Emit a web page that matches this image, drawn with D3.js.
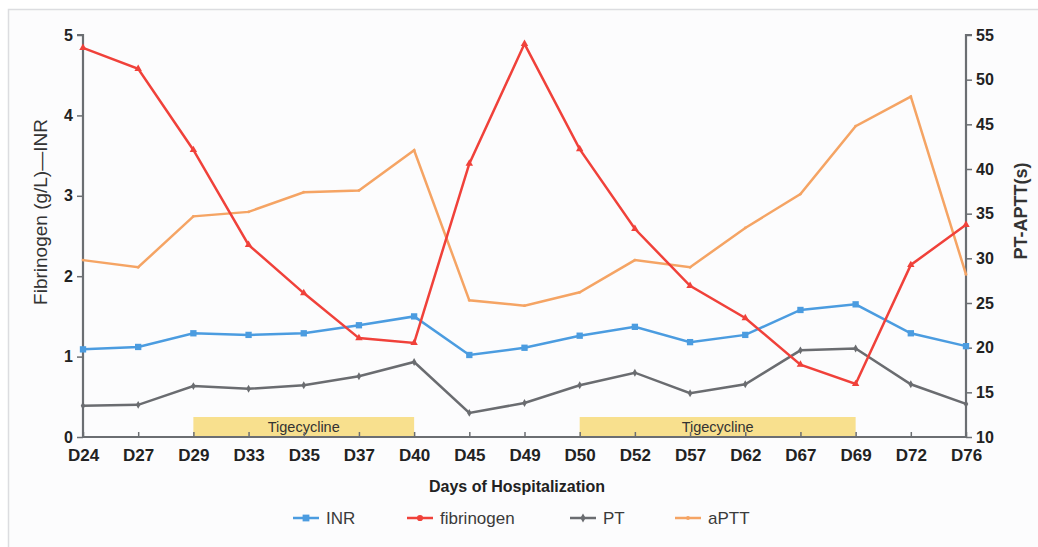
<!DOCTYPE html>
<html>
<head>
<meta charset="utf-8">
<script src="https://cdn.jsdelivr.net/npm/d3@7"></script>
<style>
  body { margin: 0; background: #fff; }
  text { font-family: "Liberation Sans", Arial, sans-serif; }
</style>
</head>
<body>
<svg id="canvas"></svg>
<script>
// data
const days = ["D24","D27","D29","D33","D35","D37","D40","D45","D49","D50","D52","D57","D62","D67","D69","D72","D76"];
const inr        = [1.09,1.12,1.29,1.27,1.29,1.39,1.50,1.02,1.11,1.26,1.37,1.18,1.27,1.58,1.65,1.29,1.13];
const fibrinogen = [4.84,4.58,3.57,2.39,1.79,1.23,1.17,3.40,4.89,3.58,2.59,1.88,1.48,0.90,0.66,2.14,2.64];
const pt         = [13.5,13.6,15.7,15.4,15.8,16.8,18.4,12.7,13.8,15.8,17.2,14.9,15.9,19.7,19.9,15.9,13.7];
const aptt       = [29.8,29.0,34.7,35.2,37.4,37.6,42.1,25.3,24.7,26.2,29.8,29.0,33.4,37.2,44.8,48.1,28.2];
const leftTicks  = [0,1,2,3,4,5];
const rightTicks = [10,15,20,25,30,35,40,45,50,55];
const treatments = [["D29","D40","Tigecycline"],["D50","D69","Tigecycline"]];

const width = 1038, height = 547;
const svg = d3.select('#canvas').attr('width', width).attr('height', height);

// frame
svg.append('rect').attr('x', 8.5).attr('y', 9.5).attr('width', 1100).attr('height', 600)
  .attr('fill', '#fcfcfd').attr('stroke', '#dcdde0').attr('stroke-width', 1.5);

const x = d3.scalePoint().domain(days).range([83, 966]);
const yL = d3.scaleLinear().domain([0, 5]).range([437, 35]);
const yR = d3.scaleLinear().domain([10, 55]).range([437, 35]);

// tigecycline bars
treatments.forEach(t => {
  svg.append('rect')
    .attr('x', x(t[0])).attr('y', 417)
    .attr('width', x(t[1]) - x(t[0])).attr('height', yL(0) - 417)
    .attr('fill', '#f8e08e');
  svg.append('text')
    .attr('x', (x(t[0]) + x(t[1])) / 2).attr('y', 427)
    .attr('text-anchor', 'middle').attr('dominant-baseline', 'central')
    .style('font-size', '14.5px').attr('fill', '#333')
    .text(t[2]);
});

// axes
const axisColor = '#6b6e72';
const gL = svg.append('g').attr('transform', `translate(${x(days[0])},0)`)
  .call(d3.axisLeft(yL).tickValues(leftTicks).tickSize(6).tickPadding(4).tickFormat(d3.format('d')));
const gR = svg.append('g').attr('transform', `translate(${x(days[days.length - 1])},0)`)
  .call(d3.axisRight(yR).tickValues(rightTicks).tickSize(6).tickPadding(4));
const gX = svg.append('g').attr('transform', `translate(0,${yL(0)})`)
  .call(d3.axisBottom(x).tickSize(-5).tickPadding(12));

[gL, gR, gX].forEach(g => {
  g.select('.domain').attr('stroke', axisColor).attr('stroke-width', 2.2);
  g.selectAll('.tick line').attr('stroke', axisColor).attr('stroke-width', 1.5);
  g.selectAll('.tick text').attr('fill', '#222').style('font-weight', 'bold')
    .style('font-size', '16px').style('font-family', '"Liberation Sans", Arial, sans-serif');
});
gX.selectAll('.tick text').style('font-size', '17px');
gX.select('.domain').attr('d', `M${x(days[0])},0H${x(days[days.length - 1])}`);
gL.select('.domain').attr('d', `M-6,${yL(5)}H0V${yL(0)}`);
gR.select('.domain').attr('d', `M6,${yR(55)}H0V${yR(10)}`);

// axis titles
svg.append('text')
  .attr('transform', `translate(40,212) rotate(-90)`)
  .attr('text-anchor', 'middle').attr('dominant-baseline', 'central')
  .style('font-size', '19px').attr('fill', '#333')
  .text('Fibrinogen (g/L)—INR');
svg.append('text')
  .attr('transform', `translate(1021,211) rotate(-90)`)
  .attr('text-anchor', 'middle').attr('dominant-baseline', 'central')
  .style('font-size', '18px').style('font-weight', 'bold').attr('fill', '#333')
  .text('PT-APTT(s)');
svg.append('text')
  .attr('x', 517).attr('y', 486)
  .attr('text-anchor', 'middle').attr('dominant-baseline', 'central')
  .style('font-size', '16px').style('font-weight', 'bold').attr('fill', '#222')
  .text('Days of Hospitalization');

// series
const series = [
  { name: 'INR',        values: inr,        y: yL, color: '#4b9ce0', symbol: d3.symbolSquare,   size: 40 },
  { name: 'fibrinogen', values: fibrinogen, y: yL, color: '#f0413a', symbol: d3.symbolTriangle, size: 24 },
  { name: 'PT',         values: pt,         y: yR, color: '#6a6c70', symbol: d3.symbolDiamond,  size: 18 },
  { name: 'aPTT',       values: aptt,       y: yR, color: '#f5a464', symbol: d3.symbolCircle,   size: 6 }
];
const drawOrder = [series[3], series[2], series[0], series[1]];

drawOrder.forEach(s => {
  const line = d3.line().x((d, i) => x(days[i])).y(d => s.y(d));
  svg.append('path').datum(s.values)
    .attr('d', line).attr('fill', 'none')
    .attr('stroke', s.color).attr('stroke-width', 2.5).attr('stroke-linejoin', 'miter');
  svg.append('g').selectAll('path')
    .data(s.values).enter().append('path')
    .attr('transform', (d, i) => `translate(${x(days[i])},${s.y(d)})`)
    .attr('d', d3.symbol().type(s.symbol).size(s.size))
    .attr('fill', s.color);
});

// legend
const legendX = [293, 407, 570, 675];
const legend = svg.append('g').attr('transform', 'translate(0,518)');
series.forEach((s, i) => {
  const g = legend.append('g').attr('transform', `translate(${legendX[i]},0)`);
  g.append('line').attr('x1', 0).attr('x2', 26).attr('y1', 0).attr('y2', 0)
    .attr('stroke', s.color).attr('stroke-width', 2.5);
  g.append('path').attr('transform', 'translate(13,0)')
    .attr('d', d3.symbol().type(i === 1 ? d3.symbolCircle : s.symbol).size(s.size + 6))
    .attr('fill', s.color);
  g.append('text').attr('x', 33).attr('y', 0)
    .attr('dominant-baseline', 'central')
    .style('font-size', '17px').attr('fill', '#3a3a3a')
    .text(s.name);
});
</script>
</body>
</html>
